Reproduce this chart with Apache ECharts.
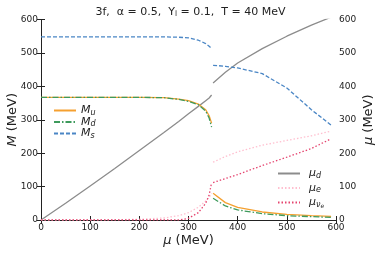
<!DOCTYPE html>
<html><head><meta charset="utf-8">
<script src="https://cdn.jsdelivr.net/npm/echarts@6/dist/echarts.min.js"></script>
<style>html,body{margin:0;padding:0;background:#fff}#c{width:381px;height:254px}</style>
</head><body><div id="c"></div>
<script>
// chemical potential grid before and after the first-order transition
const muA = [0, 50, 100, 150, 200, 250, 280, 300, 320, 335, 342, 347];
const muB = [350, 375, 400, 450, 500, 550, 590];
// constituent masses (MeV)
const MuA = [367, 367, 367, 367, 367, 366, 362, 357, 347, 330, 312, 290];
const MdA = [367, 367, 367, 367, 367, 366, 361, 355, 345, 326, 305, 278];
const MsA = [548, 548, 548, 548, 548, 548, 547, 545, 538, 528, 520, 513];
const MuB = [80, 52, 38, 24, 17, 13, 11];
const MdB = [65, 42, 30, 19, 13, 10, 8];
const MsB = [463, 460, 455, 438, 395, 330, 284];
// chemical potentials (MeV)
const mudA = [0, 50, 102, 154, 208, 262, 295, 318, 340, 357, 365, 374];
const mueA = [0, 0, 0, 1, 2, 6, 13, 22, 38, 57, 68, 80];
const munuA = [0, 0, 0, 0, 0, 0, 0, 5, 22, 50, 75, 112];
const mudB = [410, 442, 470, 513, 550, 583, 607];
const mueB = [173, 190, 204, 224, 238, 252, 266];
const munuB = [112, 124, 136, 163, 188, 214, 243];
const xTicks = [0, 100, 200, 300, 400, 500, 600];

function join(a, b, xa, xb) {
  const out = xa.map((x, i) => [x, a[i]]);
  out.push([348.5, '-']);
  xb.forEach((x, i) => out.push([x, b[i]]));
  return out;
}
const labelMap = {
  Mu: '{i|M}{s|u}', Md: '{i|M}{s|d}', Ms: '{i|M}{s|s}',
  mud: '{i|μ}{s|d}', mue: '{i|μ}{s|e}', munu: '{i|μ}{s|ν}{ss|e}'
};
const rich = {
  i: {fontStyle: 'italic', fontSize: 11, fontFamily: 'DejaVu Sans', color: '#222'},
  s: {fontStyle: 'italic', fontSize: 8, fontFamily: 'DejaVu Sans', color: '#222', padding: [4, 0, 0, 0]},
  ss: {fontStyle: 'italic', fontSize: 6, fontFamily: 'DejaVu Sans', color: '#222', padding: [7, 0, 0, 0]}
};
function ser(name, data, color, type, yi) {
  return {name, type: 'line', data, yAxisIndex: yi, symbol: 'none', connectNulls: false,
    lineStyle: {color, width: 1.3, type}, itemStyle: {color}, z: 3};
}
const axisCommon = {
  min: 0, max: 600, interval: 100,
  axisLine: {show: true, lineStyle: {color: '#222', width: 1}},
  axisTick: {show: true, inside: true, length: 4, lineStyle: {color: '#222'}},
  splitLine: {show: false},
  axisLabel: {fontSize: 9, fontFamily: 'DejaVu Sans', color: '#222', margin: 3}
};
const nameStyle = {fontSize: 13, fontFamily: 'DejaVu Sans', color: '#222',
  rich: {i: {fontStyle: 'italic', fontSize: 13, fontFamily: 'DejaVu Sans', color: '#222'}}};
const chart = echarts.init(document.getElementById('c'));
chart.setOption({
  animation: false,
  title: {
    text: '3f,  α = 0.5,  Y{sub|l} = 0.1,  T = 40 MeV', left: 'center', top: 1,
    textStyle: {fontSize: 11, fontWeight: 'normal', fontFamily: 'DejaVu Sans', color: '#222',
      rich: {sub: {fontSize: 7.5, fontFamily: 'DejaVu Sans', color: '#222', padding: [4, 0, 0, 0]}}}
  },
  grid: {left: 41, right: 45, top: 19.5, bottom: 34, containLabel: false, outerBoundsMode: 'none'},
  legend: [
    {data: ['Mu', 'Md', 'Ms'], orient: 'vertical', left: 48, top: 100, itemWidth: 22, itemHeight: 8,
      itemGap: 0, formatter: n => labelMap[n], textStyle: {rich}, itemStyle: {opacity: 0}},
    {data: ['mud', 'mue', 'munu'], orient: 'vertical', left: 272, top: 163, itemWidth: 22, itemHeight: 8,
      itemGap: 3, formatter: n => labelMap[n], textStyle: {rich, padding: [0, 0, 0, 4]}, itemStyle: {opacity: 0}}
  ],
  xAxis: [
    Object.assign({}, axisCommon, {type: 'value', position: 'bottom',
      name: '{i|μ} (MeV)', nameLocation: 'middle', nameGap: 14, nameMoveOverlap: false, nameTextStyle: nameStyle,
      axisLabel: Object.assign({}, axisCommon.axisLabel, {formatter: v => xTicks.includes(v) ? String(v) : ''})}),
    Object.assign({}, axisCommon, {type: 'value', position: 'top', axisLabel: {show: false}})
  ],
  yAxis: [
    Object.assign({}, axisCommon, {type: 'value', position: 'left',
      name: '{i|M} (MeV)', nameLocation: 'middle', nameGap: 22, nameMoveOverlap: false, nameRotate: 90, nameTextStyle: nameStyle}),
    Object.assign({}, axisCommon, {type: 'value', position: 'right',
      name: '{i|μ} (MeV)', nameLocation: 'middle', nameGap: 26, nameMoveOverlap: false, nameRotate: 90, nameTextStyle: nameStyle})
  ],
  series: [
    ser('mud', join(mudA, mudB, muA, muB), '#8c8c8c', 'solid', 1),
    ser('mue', join(mueA, mueB, muA, muB), '#ffbfcf', [1.5, 2], 1),
    ser('munu', join(munuA, munuB, muA, muB), '#e5446f', [1.5, 2], 1),
    ser('Mu', join(MuA, MuB, muA, muB), '#f5a030', 'solid', 0),
    ser('Md', join(MdA, MdB, muA, muB), '#3e9a5c', [6, 2, 1.5, 2], 0),
    ser('Ms', join(MsA, MsB, muA, muB), '#4a86c5', [4, 2], 0)
  ]
});
</script></body></html>
